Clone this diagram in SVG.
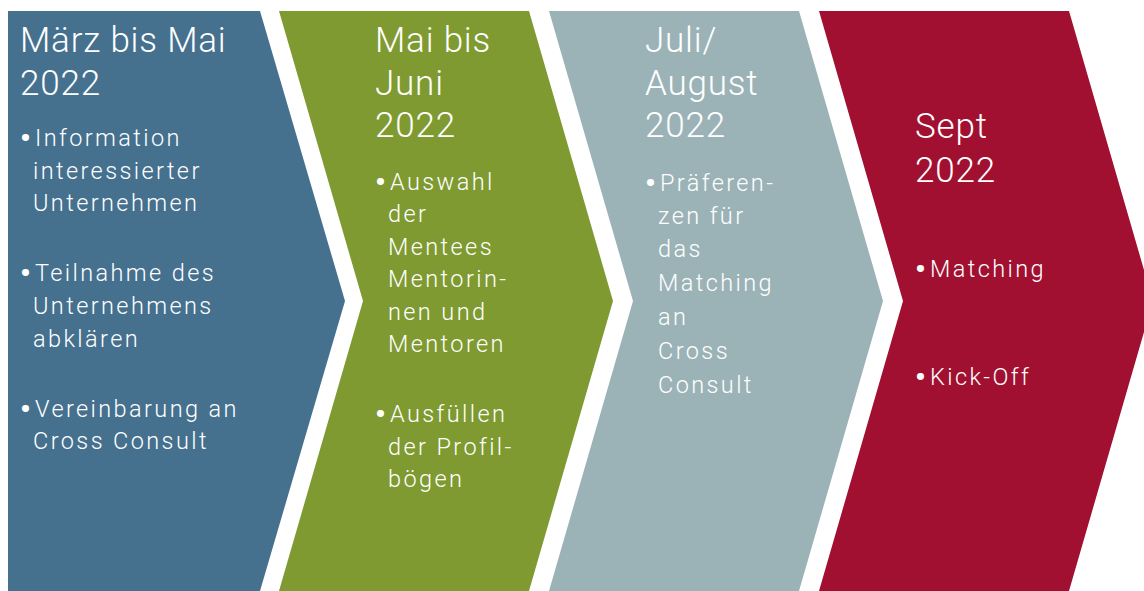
<svg xmlns="http://www.w3.org/2000/svg" width="1144" height="591" viewBox="0 0 1144 591">
<style>
.title{font-family:Roboto,"Liberation Sans",sans-serif;font-size:35px;font-weight:300;fill:#fff;letter-spacing:0.8px}
.item{font-family:Roboto,"Liberation Sans",sans-serif;font-size:23.5px;font-weight:300;fill:#fff;letter-spacing:2.4px}
.b{font-size:30px;font-weight:700;letter-spacing:0}
</style>
<rect width="1144" height="591" fill="#fff"/>
<g id="phase1">
<path d="M8,11 L260,11 L345,301 L260,591 L8,591 Z" fill="#45718F"/>
<text class="title"><tspan x="20" y="52">März bis Mai</tspan><tspan x="20" y="95">2022</tspan></text>
<text class="item"><tspan class="b" x="20" y="148">•</tspan><tspan x="35" y="146">Information</tspan><tspan x="33" y="179">interessierter</tspan><tspan x="33" y="211">Unternehmen</tspan></text>
<text class="item"><tspan class="b" x="20" y="283">•</tspan><tspan x="35" y="281">Teilnahme des</tspan><tspan x="33" y="314">Unternehmens</tspan><tspan x="33" y="347">abklären</tspan></text>
<text class="item"><tspan class="b" x="20" y="419">•</tspan><tspan x="35" y="417">Vereinbarung an</tspan><tspan x="33" y="449">Cross Consult</tspan></text>
</g>
<g id="phase2">
<path d="M279,11 L529,11 L613,301 L529,591 L279,591 L363,301 Z" fill="#7E9A31"/>
<text class="title"><tspan x="375" y="52">Mai bis</tspan><tspan x="375" y="95">Juni</tspan><tspan x="375" y="137">2022</tspan></text>
<text class="item"><tspan class="b" x="375" y="192">•</tspan><tspan x="390" y="190">Auswahl</tspan><tspan x="388" y="222">der</tspan><tspan x="388" y="255">Mentees</tspan><tspan x="388" y="287">Mentorin-</tspan><tspan x="388" y="320">nen und</tspan><tspan x="388" y="352">Mentoren</tspan></text>
<text class="item"><tspan class="b" x="375" y="424">•</tspan><tspan x="390" y="422">Ausfüllen</tspan><tspan x="388" y="455">der Profil-</tspan><tspan x="388" y="487">bögen</tspan></text>
</g>
<g id="phase3">
<path d="M549,11 L799,11 L883,301 L799,591 L549,591 L633,301 Z" fill="#9BB3B7"/>
<text class="title"><tspan x="645" y="52">Juli/</tspan><tspan x="645" y="95">August</tspan><tspan x="645" y="137">2022</tspan></text>
<text class="item"><tspan class="b" x="645" y="193">•</tspan><tspan x="660" y="191">Präferen-</tspan><tspan x="658" y="224">zen für</tspan><tspan x="658" y="257">das</tspan><tspan x="658" y="291">Matching</tspan><tspan x="658" y="325">an</tspan><tspan x="658" y="359">Cross</tspan><tspan x="658" y="393">Consult</tspan></text>
</g>
<g id="phase4">
<path d="M819,11 L1069,11 L1153,301 L1069,591 L819,591 L903,301 Z" fill="#A11031"/>
<text class="title"><tspan x="915" y="138">Sept</tspan><tspan x="915" y="182">2022</tspan></text>
<text class="item"><tspan class="b" x="915" y="279">•</tspan><tspan x="930" y="277">Matching</tspan></text>
<text class="item"><tspan class="b" x="915" y="387">•</tspan><tspan x="930" y="385">Kick-Off</tspan></text>
</g>
<g id="connectors"></g>
</svg>
